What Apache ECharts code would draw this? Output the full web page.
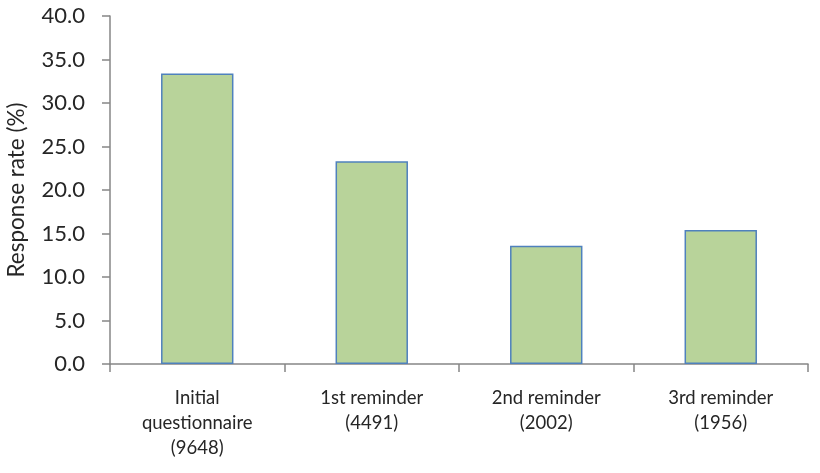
<!DOCTYPE html>
<html>
<head>
<meta charset="utf-8">
<script src="https://cdn.jsdelivr.net/npm/echarts@6/dist/echarts.min.js"></script>
<style>
  html, body { margin: 0; padding: 0; background: #ffffff; }
  #chart { width: 820px; height: 473px; }
</style>
</head>
<body>
<div id="chart"></div>
<script>
// Response rate per mailing wave (sample size in brackets)
const categories = [
  'Initial\nquestionnaire\n(9648)',
  '1st reminder\n(4491)',
  '2nd reminder\n(2002)',
  '3rd reminder\n(1956)'
];
const responseRates = [33.4, 23.3, 13.6, 15.4];
const yTicks = { min: 0, max: 40, interval: 5 };

const textColor = '#262626';
const axisColor = '#868686';
const fontFamily = 'Lato, "Open Sans", sans-serif';

const chart = echarts.init(document.getElementById('chart'), null, { renderer: 'canvas' });
chart.setOption({
  animation: false,
  grid: { left: 110, right: 12, top: 16, bottom: 109, outerBoundsMode: 'none', containLabel: false },
  xAxis: {
    type: 'category',
    data: categories,
    axisLine: { lineStyle: { color: axisColor, width: 1.5 } },
    axisTick: { show: true, length: 8, inside: false, lineStyle: { color: axisColor, width: 1.5 } },
    axisLabel: {
      color: textColor, fontSize: 18.5, fontFamily: fontFamily,
      lineHeight: 25, margin: 22, interval: 0, align: 'center'
    },
    splitLine: { show: false }
  },
  yAxis: {
    type: 'value',
    min: yTicks.min, max: yTicks.max, interval: yTicks.interval,
    name: 'Response rate (%)',
    nameLocation: 'middle',
    nameGap: 82,
    nameRotate: 90,
    nameTextStyle: { color: textColor, fontSize: 22.5, fontFamily: fontFamily },
    axisLine: { show: true, lineStyle: { color: axisColor, width: 1.5 } },
    axisTick: { show: true, length: 8, lineStyle: { color: axisColor, width: 1.5 } },
    axisLabel: {
      color: textColor, fontSize: 22, fontFamily: fontFamily, margin: 25,
      formatter: v => v.toFixed(1)
    },
    splitLine: { show: false }
  },
  series: [{
    type: 'bar',
    data: responseRates,
    barWidth: '41.5%',
    itemStyle: { color: '#b8d39a', borderColor: '#4f81bd', borderWidth: 1.5 }
  }]
});
</script>
</body>
</html>
